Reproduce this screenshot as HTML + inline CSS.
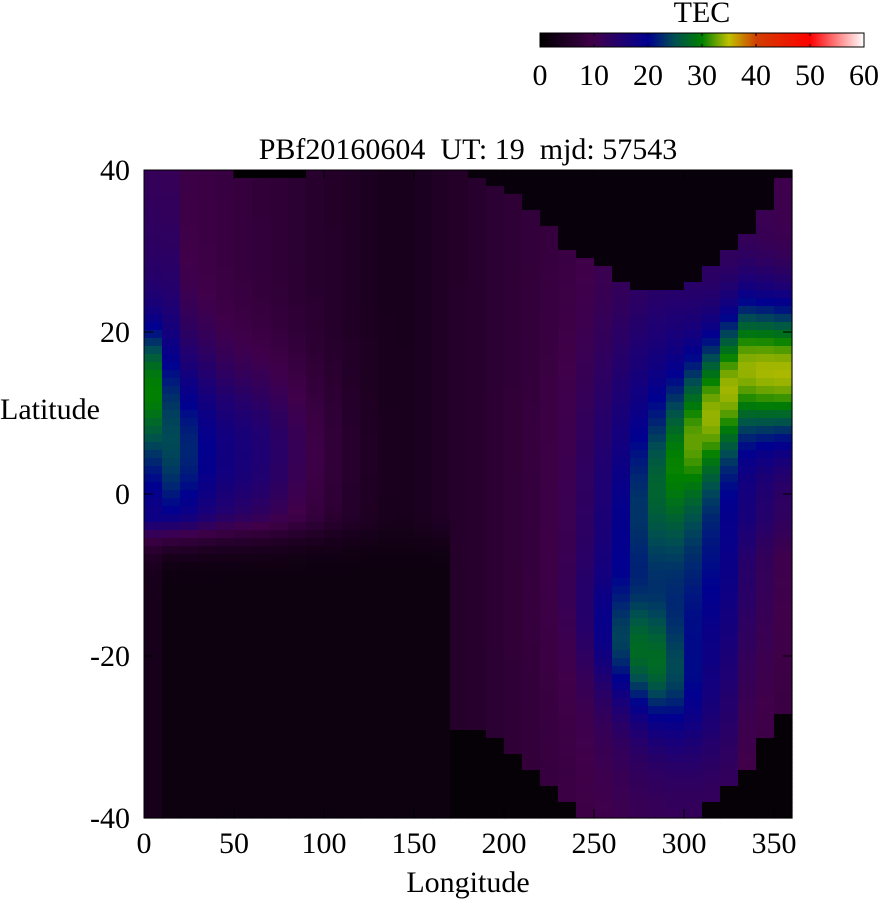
<!DOCTYPE html>
<html><head><meta charset="utf-8"><style>
body{margin:0;background:#fff;width:878px;height:900px;overflow:hidden;font-family:"Liberation Serif",serif;}
svg text{font-family:"Liberation Serif",serif;font-size:30px;fill:#000;white-space:pre}
</style></head><body>
<svg id="s" width="878" height="900" xmlns="http://www.w3.org/2000/svg">
<defs><linearGradient id="cb" x1="0" x2="1" y1="0" y2="0">
<stop offset="0" stop-color="#000000"/><stop offset="0.1667" stop-color="#40004a"/>
<stop offset="0.25" stop-color="#200070"/><stop offset="0.3333" stop-color="#000090"/>
<stop offset="0.4167" stop-color="#005050"/><stop offset="0.5" stop-color="#008000"/>
<stop offset="0.5833" stop-color="#c0c000"/><stop offset="0.6667" stop-color="#d04000"/>
<stop offset="0.8333" stop-color="#ff0000"/><stop offset="1" stop-color="#ffffff"/>
</linearGradient></defs>
<text x="702" y="22" text-anchor="middle">TEC</text>
<rect x="540" y="33" width="324" height="14" fill="url(#cb)" stroke="#000" stroke-width="1"/>
<g id="cbt"></g>
<text x="468" y="159" text-anchor="middle" xml:space="preserve">PBf20160604  UT: 19  mjd: 57543</text>
<g id="hm"></g>
<rect x="144" y="170" width="648" height="648" fill="none" stroke="#000" stroke-width="1"/>
<g id="ax"></g>
<text x="0" y="419">Latitude</text>
<text x="468" y="892" text-anchor="middle">Longitude</text>
</svg>
<script>
var NS="http://www.w3.org/2000/svg";
function el(p,t,a,txt){var e=document.createElementNS(NS,t);for(var k in a)e.setAttribute(k,a[k]);if(txt!=null)e.textContent=txt;p.appendChild(e);return e;}
var stops=[[0,[0,0,0]],[10,[64,0,74]],[15,[32,0,112]],[20,[0,0,144]],[25,[0,80,80]],[30,[0,128,0]],[35,[192,192,0]],[40,[208,64,0]],[50,[255,0,0]],[60,[255,255,255]]];
function col(v){if(v<0)v=0;if(v>60)v=60;for(var i=1;i<stops.length;i++){if(v<=stops[i][0]){var a=stops[i-1],b=stops[i],t=(v-a[0])/(b[0]-a[0]);var c=a[1].map(function(x,j){return Math.round(x+(b[1][j]-x)*t);});return "rgb("+c.join(",")+")";}}return "#fff";}
function g(x,s){return Math.exp(-(x*x)/(2*s*s));}
function interp(tab,lon){for(var i=1;i<tab.length;i++){if(lon<=tab[i][0]){var a=tab[i-1],b=tab[i];return a[1]+(b[1]-a[1])*(lon-a[0])/(b[0]-a[0]);}}return tab[tab.length-1][1];}
var topB=[[0,41],[170,41],[185,39],[205,37.5],[215,35.6],[225,33],[235,30],[255,28],[265,26.5],[275,25],[295,25],[305,26],[315,28],[325,30],[335,32],[345,35.7],[355,39],[360,41]];
var botB=[[0,-5],[160,-5],[175,-29],[185,-29],[195,-30],[205,-32],[215,-34],[225,-36],[235,-38],[245,-41],[305,-41],[315,-38],[325,-36],[335,-34],[345,-30],[355,-27],[360,-27]];
function val(lon,lat){
 var night=0.5*(1+Math.cos((lon-320)*Math.PI/180));
 var v=3.5+7*Math.sqrt(night);
 if(lon<20) v+=3*g(lat-25,15);
 v+=15*g(lon,6)*g(lat-14,5);
 v+=10*g(lon-15,15)*g(lat-6,10);
 v+=8*g(lon-55,30)*g(lat-5,8);
 v+=13*g(lon-295,32)*g(lat+3,18);
 var lc=Math.min(3+(lon-290)*0.3,16);
 var w=lon<335?g(lon-335,30):1-(lon-335)*0.01;
 v+=19*w*g(lat-lc,6);
 v+=8*g(lon-355,10)*g(lat-14,6);
 var sc=-18-(lon-260)*0.15;
 v+=11*g(lon-278,18)*g(lat-sc,5);
 if(lon>330 && lat<-3) v-=2*Math.min(1,(-3-lat)/5);
 var tb=interp(topB,lon), bb=interp(botB,lon);
 if(lat>tb) v=Math.min(v,1.3);
 if(lon<170 && lat<-2){var s=g(lat+2,3);v=2+(v-2)*s; if(lon<15) v+=1.5;}
 else if(lat<bb) v=Math.min(v,1);
 if(lat>=39.5 && lon>50 && lon<90) v=0.5;
 return v;
}
var hm=document.getElementById("hm");
for(var i=0;i<36;i++){var lon=5+10*i;for(var k=0;k<81;k++){var lat=40-k;
 el(hm,"rect",{x:144+18*i,y:170+8*k,width:18.6,height:8.6,fill:col(val(lon,lat))});}}
var ax=document.getElementById("ax");
for(var L=0;L<=350;L+=50){var x=144+1.8*L;el(ax,"line",{x1:x,y1:818,x2:x,y2:809,stroke:"#000"});el(ax,"line",{x1:x,y1:170,x2:x,y2:179,stroke:"#000"});el(ax,"text",{x:x,y:853,"text-anchor":"middle"},""+L);}
for(var la=-40;la<=40;la+=20){var y=494-la*8.1;el(ax,"line",{x1:144,y1:y,x2:153,y2:y,stroke:"#000"});el(ax,"line",{x1:792,y1:y,x2:783,y2:y,stroke:"#000"});el(ax,"text",{x:130,y:y+10,"text-anchor":"end"},""+la);}
var cbt=document.getElementById("cbt");
for(var t=0;t<=60;t+=10){var x=540+5.4*t;el(cbt,"line",{x1:x,y1:33,x2:x,y2:36,stroke:"#000"});el(cbt,"line",{x1:x,y1:47,x2:x,y2:44,stroke:"#000"});el(cbt,"text",{x:x,y:85,"text-anchor":"middle"},""+t);}
</script>
</body></html>
